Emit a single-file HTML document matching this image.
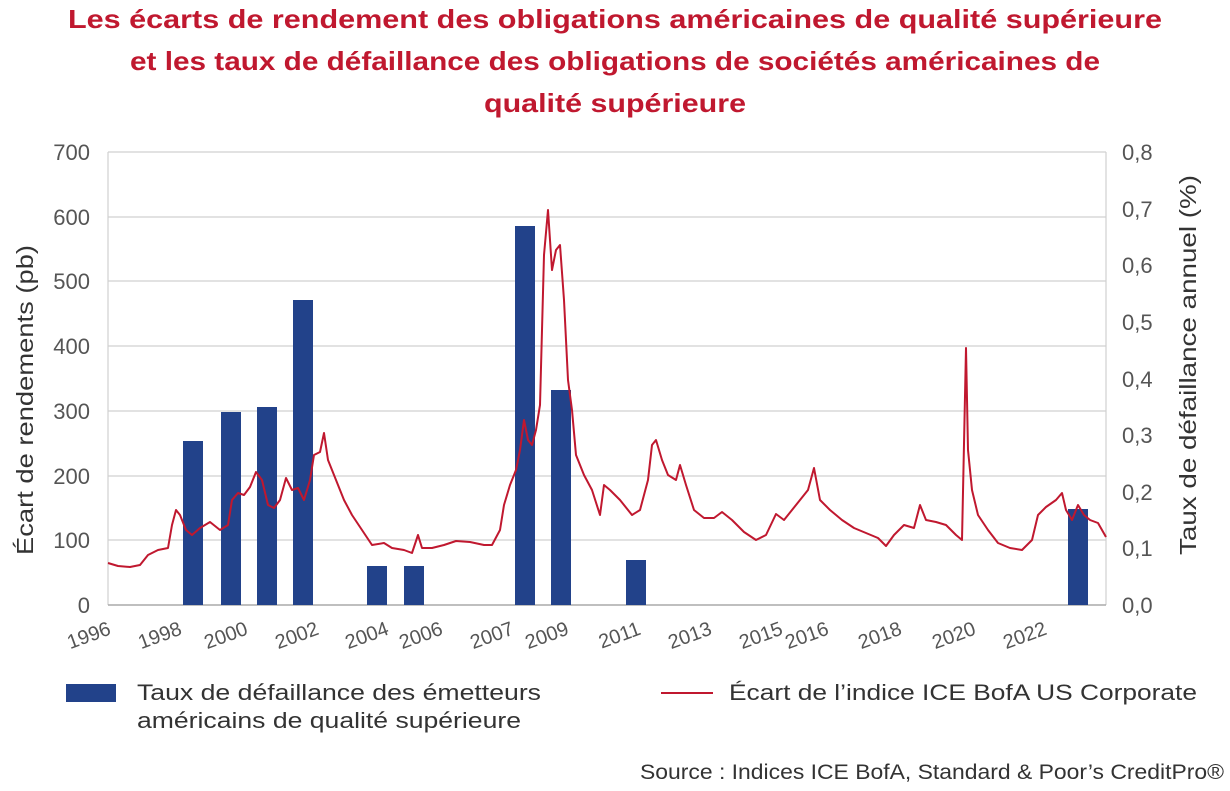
<!DOCTYPE html>
<html><head><meta charset="utf-8"><style>
body{margin:0;background:#fff;width:1230px;height:786px;overflow:hidden;font-family:"Liberation Sans",sans-serif}
</style></head><body>
<svg width="1230" height="786" xmlns="http://www.w3.org/2000/svg" font-family="Liberation Sans, sans-serif">
<g fill="#c0182f" font-weight="bold" font-size="26" text-anchor="middle">
<text x="615" y="28" textLength="1094" lengthAdjust="spacingAndGlyphs">Les écarts de rendement des obligations américaines de qualité supérieure</text>
<text x="615" y="70" textLength="970" lengthAdjust="spacingAndGlyphs">et les taux de défaillance des obligations de sociétés américaines de</text>
<text x="615" y="112" textLength="262" lengthAdjust="spacingAndGlyphs">qualité supérieure</text>
</g>
<g stroke="#d0d0d0" stroke-width="1.2">
<line x1="108" x2="1106" y1="152" y2="152"/><line x1="108" x2="1106" y1="217" y2="217"/>
<line x1="108" x2="1106" y1="281" y2="281"/><line x1="108" x2="1106" y1="346" y2="346"/>
<line x1="108" x2="1106" y1="411" y2="411"/><line x1="108" x2="1106" y1="476" y2="476"/>
<line x1="108" x2="1106" y1="540" y2="540"/>
<line x1="108" x2="108" y1="152" y2="605"/><line x1="1106" x2="1106" y1="152" y2="605"/>
</g>
<line x1="108" x2="1106" y1="605" y2="605" stroke="#aaa" stroke-width="1.5"/>
<g fill="#555" font-size="22" text-anchor="end">
<text x="90" y="160">700</text><text x="90" y="225">600</text><text x="90" y="289">500</text>
<text x="90" y="354">400</text><text x="90" y="419">300</text><text x="90" y="484">200</text>
<text x="90" y="548">100</text><text x="90" y="613">0</text>
</g>
<g fill="#555" font-size="22">
<text x="1122" y="160">0,8</text><text x="1122" y="217">0,7</text><text x="1122" y="273">0,6</text>
<text x="1122" y="330">0,5</text><text x="1122" y="387">0,4</text><text x="1122" y="443">0,3</text>
<text x="1122" y="500">0,2</text><text x="1122" y="556">0,1</text><text x="1122" y="613">0,0</text>
</g>
<text transform="translate(33,400) rotate(-90)" fill="#333" font-size="23" text-anchor="middle" textLength="310" lengthAdjust="spacingAndGlyphs">Écart de rendements (pb)</text>
<text transform="translate(1196,365) rotate(-90)" fill="#333" font-size="23" text-anchor="middle" textLength="380" lengthAdjust="spacingAndGlyphs">Taux de défaillance annuel (%)</text>
<g fill="#555" font-size="20" text-anchor="end">
<text transform="translate(112,634) rotate(-20)">1996</text>
<text transform="translate(183,634) rotate(-20)">1998</text>
<text transform="translate(249,634) rotate(-20)">2000</text>
<text transform="translate(320,634) rotate(-20)">2002</text>
<text transform="translate(390,634) rotate(-20)">2004</text>
<text transform="translate(444,634) rotate(-20)">2006</text>
<text transform="translate(515,634) rotate(-20)">2007</text>
<text transform="translate(570,634) rotate(-20)">2009</text>
<text transform="translate(642,634) rotate(-20)">2011</text>
<text transform="translate(713,634) rotate(-20)">2013</text>
<text transform="translate(784,634) rotate(-20)">2015</text>
<text transform="translate(830,634) rotate(-20)">2016</text>
<text transform="translate(903,634) rotate(-20)">2018</text>
<text transform="translate(977,634) rotate(-20)">2020</text>
<text transform="translate(1048,634) rotate(-20)">2022</text>
</g>
<g fill="#22428a">
<rect x="183" y="441" width="20" height="164"/><rect x="221" y="412" width="20" height="193"/>
<rect x="257" y="407" width="20" height="198"/><rect x="293" y="300" width="20" height="305"/>
<rect x="367" y="566" width="20" height="39"/><rect x="404" y="566" width="20" height="39"/>
<rect x="515" y="226" width="20" height="379"/><rect x="551" y="390" width="20" height="215"/>
<rect x="626" y="560" width="20" height="45"/><rect x="1068" y="509" width="20" height="96"/>
</g>
<polyline fill="none" stroke="#c0182f" stroke-width="2" stroke-linejoin="round" points="108,563 118,566 130,567 140,565 148,555 158,550 168,548 172,525 176,510 180,515 186,530 192,535 200,528 210,522 220,530 228,525 232,500 238,493 244,495 250,487 256,472 262,480 268,505 274,508 280,500 286,478 292,490 298,488 304,500 310,480 314,455 320,452 324,433 328,460 332,470 338,485 344,500 352,515 362,530 372,545 384,543 392,548 404,550 412,553 418,535 422,548 432,548 444,545 456,541 470,542 484,545 492,545 500,530 504,505 510,485 516,470 520,450 524,420 528,440 532,445 536,430 540,405 544,255 548,210 552,270 556,250 560,245 564,300 568,380 572,410 576,455 584,475 592,490 600,515 604,485 610,490 620,500 632,515 640,510 648,480 652,445 656,440 662,460 668,475 676,480 680,465 686,485 694,510 704,518 714,518 722,512 732,520 744,532 756,540 766,535 776,514 784,520 792,510 800,500 808,490 814,468 820,500 830,510 842,520 854,528 866,533 878,538 886,546 894,535 904,525 914,528 920,505 926,520 936,522 946,525 956,535 962,540 966,348 968,450 972,490 978,515 988,530 998,543 1010,548 1022,550 1032,540 1038,515 1046,507 1056,500 1062,493 1066,510 1072,520 1078,505 1084,515 1090,520 1098,523 1106,537"/>
<rect x="66" y="684" width="50" height="18" fill="#22428a"/>
<g fill="#333" font-size="22">
<text x="137" y="700" textLength="404" lengthAdjust="spacingAndGlyphs">Taux de défaillance des émetteurs</text>
<text x="137" y="728" textLength="384" lengthAdjust="spacingAndGlyphs">américains de qualité supérieure</text>
<text x="729" y="700" textLength="468" lengthAdjust="spacingAndGlyphs">Écart de l’indice ICE BofA US Corporate</text>
<text x="640" y="779" font-size="21" textLength="584" lengthAdjust="spacingAndGlyphs">Source : Indices ICE BofA, Standard &amp; Poor’s CreditPro®</text>
</g>
<line x1="661" x2="713" y1="693" y2="693" stroke="#c0182f" stroke-width="2"/>
</svg>
</body></html>
